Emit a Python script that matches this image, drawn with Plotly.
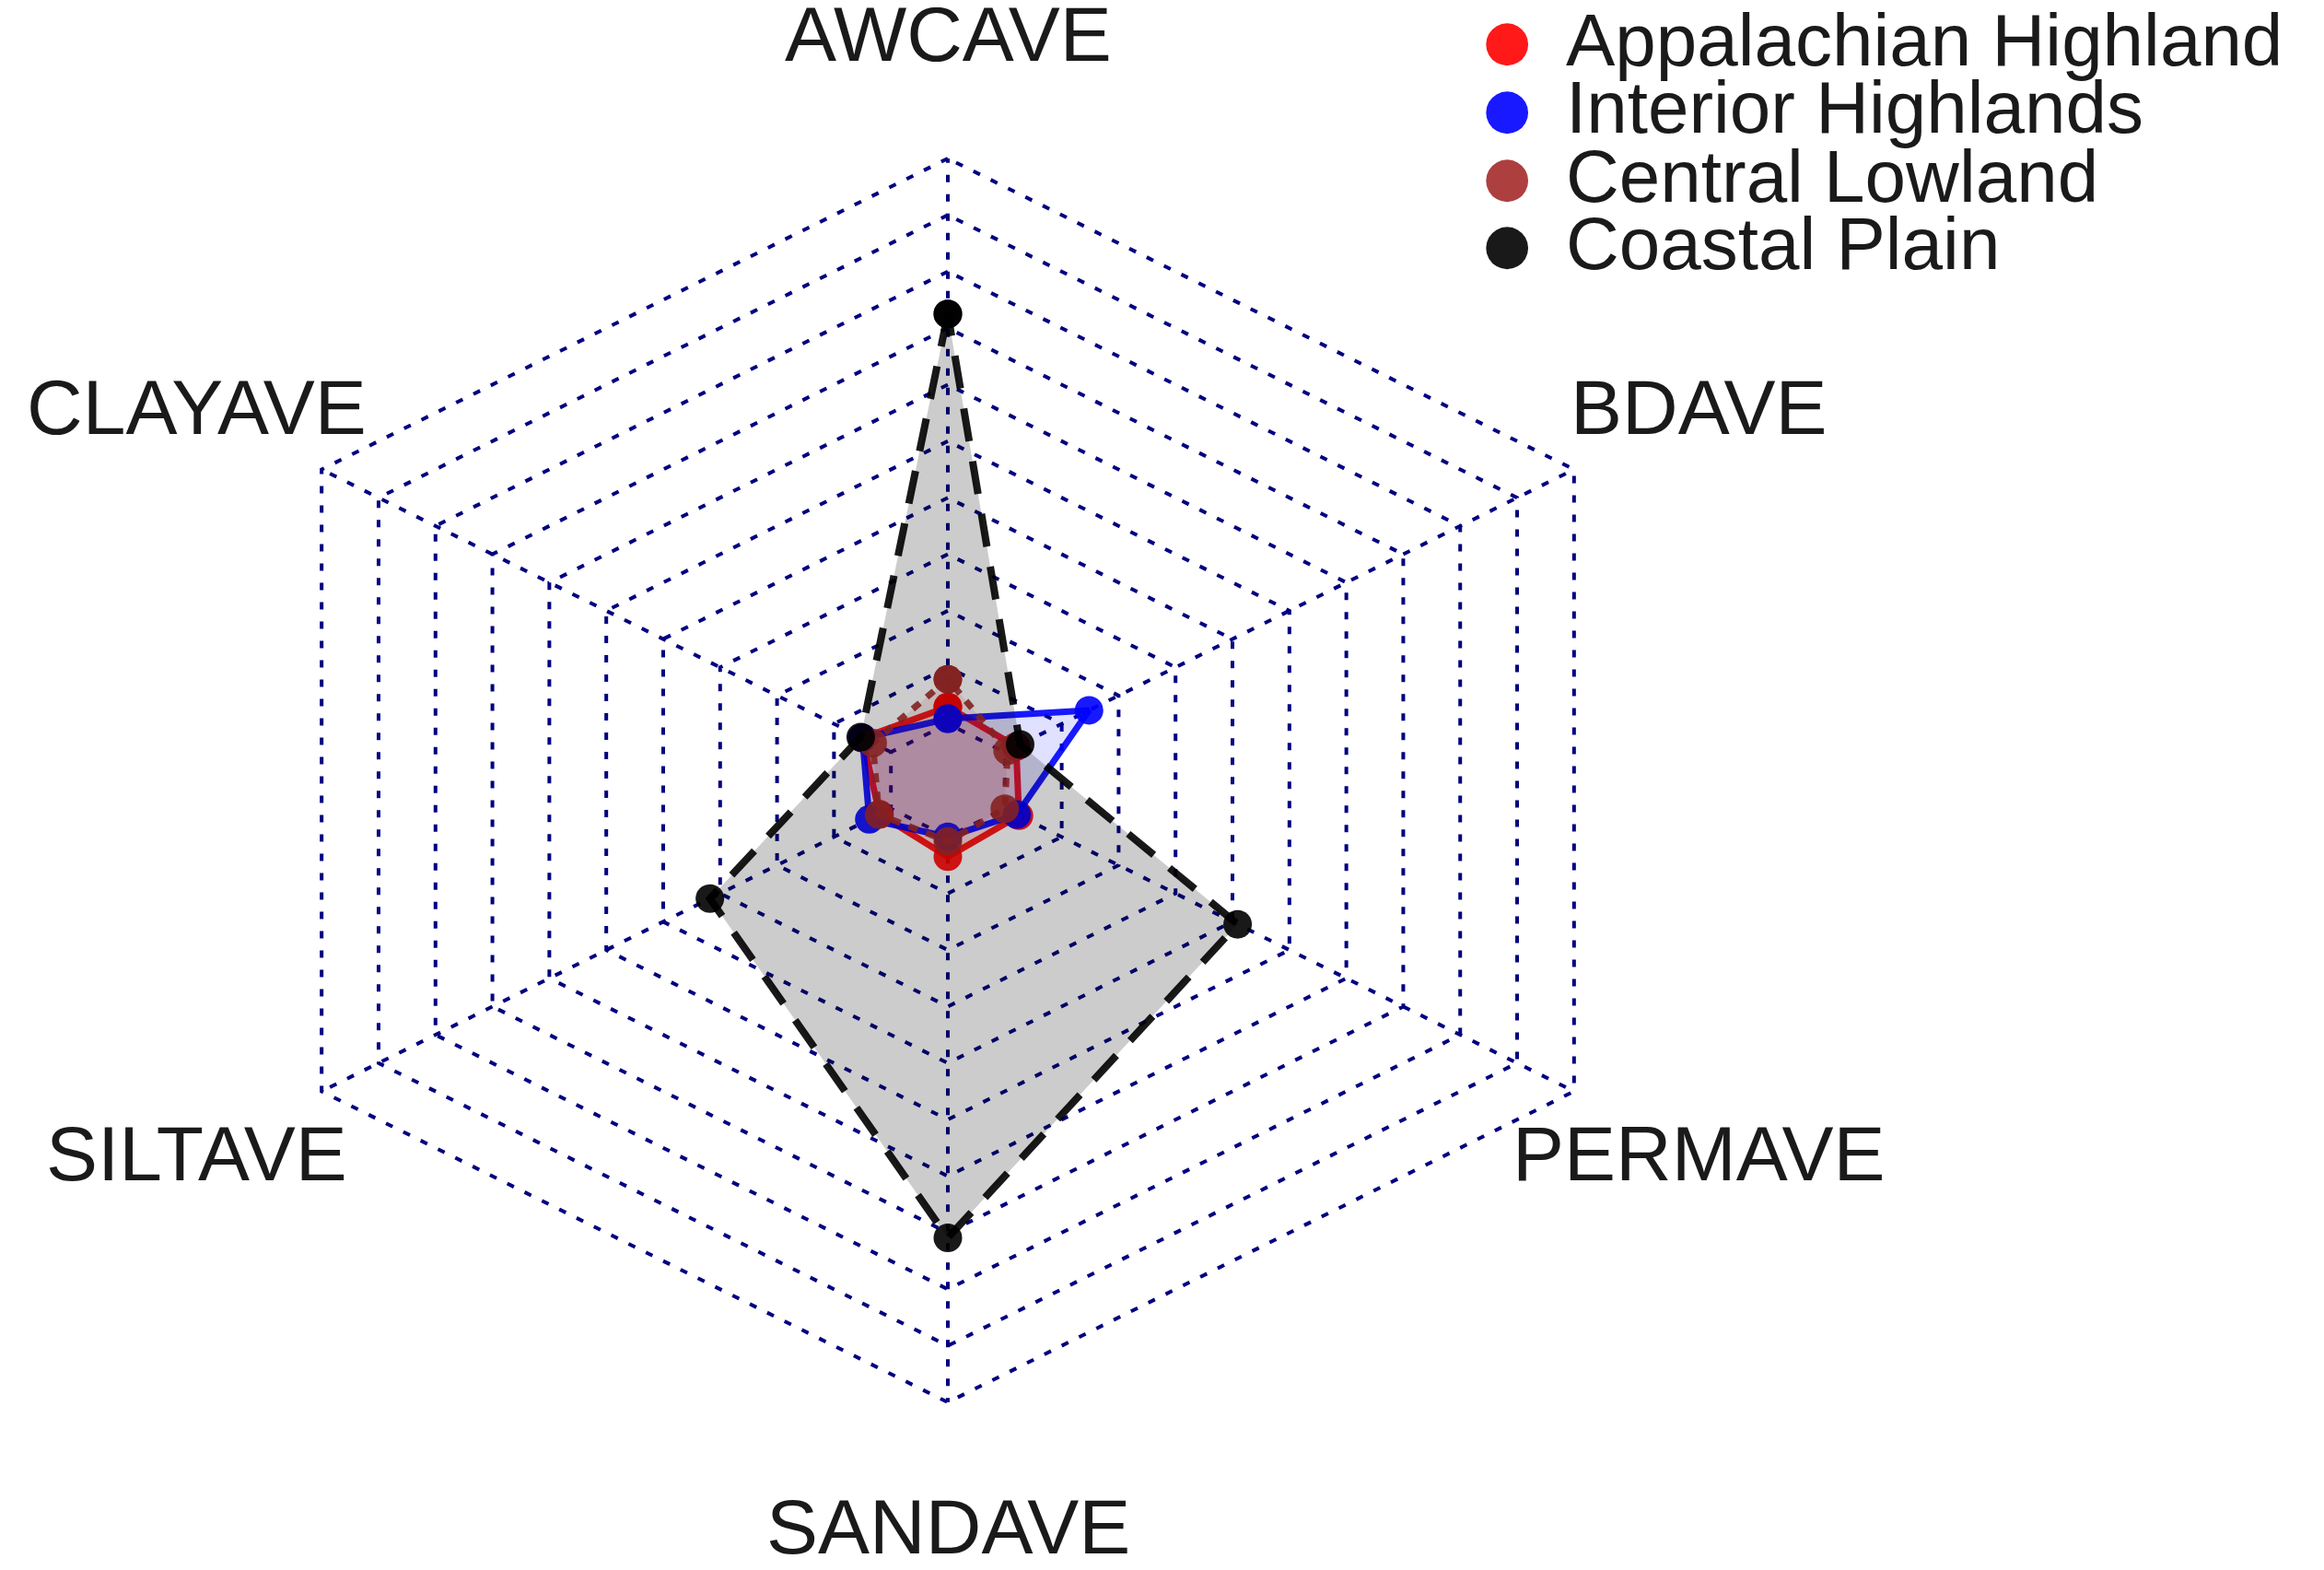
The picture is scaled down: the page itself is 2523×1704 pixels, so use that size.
import numpy as np
import plotly.graph_objects as go

# axes in drawing order (counter-clockwise, starting at the top)
categories = ["AWCAVE", "CLAYAVE", "SILTAVE", "SANDAVE", "PERMAVE", "BDAVE"]

# values scaled 0..1 between the chart's min and max
series_names = ["Appalachian Highland", "Interior Highlands", "Central Lowland", "Coastal Plain"]
appalachian = [0.030, 0.050, 0.020, 0.035, 0.025, 0.020]
interior = [0.009, 0.050, 0.038, 0.000, 0.021, 0.148]
central = [0.079, 0.032, 0.021, 0.008, 0.000, 0.005]
coastal = [0.725, 0.053, 0.318, 0.709, 0.409, 0.027]

line_cols = ["rgba(255,0,0,0.9)", "rgba(0,0,255,0.9)", "rgba(165,42,42,0.9)", "rgba(0,0,0,0.9)"]
fill_cols = ["rgba(255,0,0,0.15)", "rgba(0,0,255,0.12)", "rgba(165,42,42,0.10)", "rgba(0,0,0,0.20)"]
dashes = ["solid", "solid", "10px,10px", "36px,22px"]
widths = [7, 7, 7, 8]

seg = 10
# page body has an 8px margin, so the figure is a bit smaller than the window
W, H = 2523 - 16, 1704 - 16
cx, cy = 1029 - 8, 847 - 8  # centre in figure pixels
ux, uy = 785, 675           # pixels per unit (plot is stretched horizontally)

theta = np.deg2rad(90 + 60 * np.arange(len(categories)))


def closed(a):
    return np.append(a, a[0])


def to_xy(values):
    r = (np.asarray(values) * seg + 1) / (seg + 1)
    return closed(r * np.cos(theta)), closed(r * np.sin(theta))


fig = go.Figure()

# web: rings
gx, gy = [], []
for i in range(seg + 1):
    rr = (i + 1) / (seg + 1)
    gx += list(closed(rr * np.cos(theta))) + [None]
    gy += list(closed(rr * np.sin(theta))) + [None]
# spokes
for t in theta:
    gx += [np.cos(t) / (seg + 1), np.cos(t), None]
    gy += [np.sin(t) / (seg + 1), np.sin(t), None]
fig.add_trace(go.Scatter(x=gx, y=gy, mode="lines", hoverinfo="skip",
                         line=dict(color="#000080", width=4, dash="8px,13px")))

for name, vals, lc, fc, ds, lw in zip(series_names,
                                      [appalachian, interior, central, coastal],
                                      line_cols, fill_cols, dashes, widths):
    x, y = to_xy(vals)
    fig.add_trace(go.Scatter(x=x, y=y, name=name, mode="lines+markers",
                             fill="toself", fillcolor=fc,
                             line=dict(color=lc, width=lw, dash=ds),
                             marker=dict(size=31, color=lc)))

# axis labels
for lab, t in zip(categories, theta):
    fig.add_annotation(x=1.2 * np.cos(t), y=1.2 * np.sin(t), text=lab, showarrow=False,
                       xanchor="center", yanchor="middle",
                       font=dict(family="Liberation Sans, Arial", size=84, color="#1a1a1a"))

# legend
legend_rows = [43, 117, 191, 264]
for name, lc, py in zip(series_names, line_cols, legend_rows):
    fig.add_annotation(x=(1636 - 8) / W, y=1 - (py - 8) / H, xref="paper", yref="paper",
                       text="●", showarrow=False, xanchor="center", yanchor="middle",
                       font=dict(family="DejaVu Sans", size=60, color=lc))
    fig.add_annotation(x=(1698 - 8) / W, y=1 - (py - 8) / H, xref="paper", yref="paper",
                       text=name, showarrow=False, xanchor="left", yanchor="middle",
                       font=dict(family="Liberation Sans, Arial", size=80, color="#1a1a1a"))

fig.update_layout(
    width=W, height=H,
    margin=dict(l=0, r=0, t=0, b=0),
    paper_bgcolor="white", plot_bgcolor="white",
    showlegend=False,
    xaxis=dict(range=[-cx / ux, (W - cx) / ux], visible=False, fixedrange=True),
    yaxis=dict(range=[(cy - H) / uy, cy / uy], visible=False, fixedrange=True),
)

fig.write_html("out.html")
